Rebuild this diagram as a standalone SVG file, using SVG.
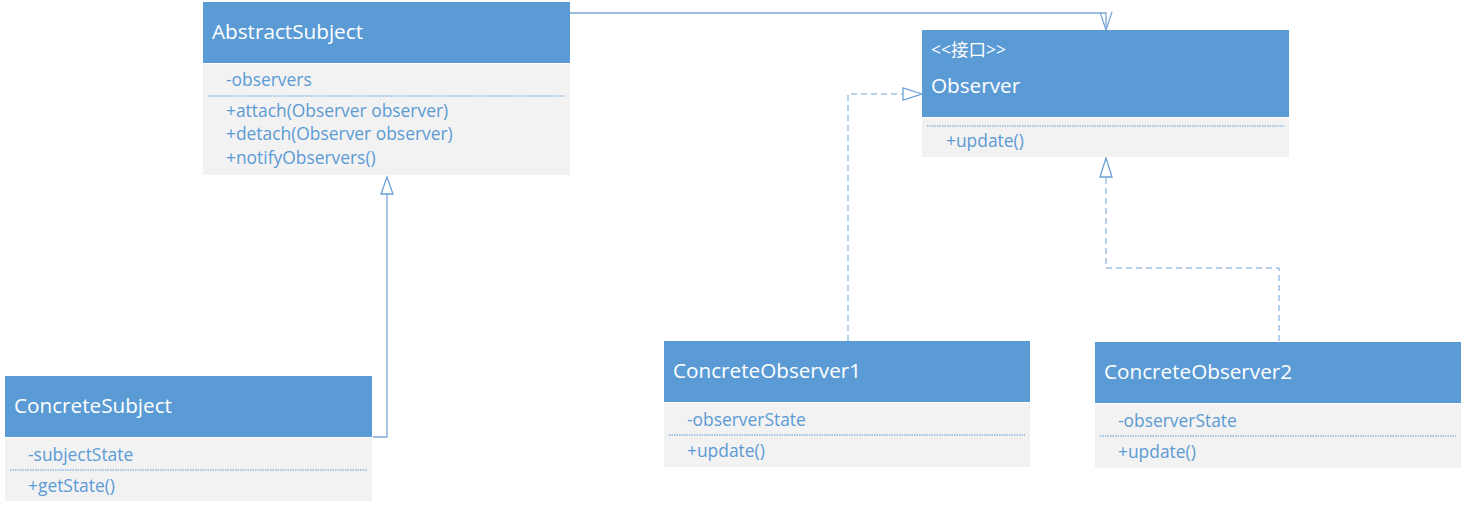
<svg xmlns="http://www.w3.org/2000/svg" width="1464" height="507" viewBox="0 0 1464 507">
<style>
.hd{fill:#5B9BD5}
.bd{fill:#F2F2F2}
.t{font-family:"Open Sans","Noto Sans","Liberation Sans",sans-serif;fill:#FFFFFF;font-size:20.7px}
.m{font-family:"Open Sans","Noto Sans","Liberation Sans",sans-serif;fill:#5B9BD5;font-size:17.4px}
.st{font-family:"Open Sans","Noto Sans CJK SC",sans-serif;fill:#FFFFFF;font-size:17.5px}
.dot{stroke:#5B9BD5;stroke-width:1;stroke-dasharray:1.5 1}
.ln{fill:none;stroke:#7DA7D9;stroke-width:1.3}
.dl{fill:none;stroke:#9DC3E6;stroke-width:1.5;stroke-dasharray:6 4}
.tri{fill:#FFFFFF;stroke:#6A9FD8;stroke-width:1.3}
</style>
<rect width="1464" height="507" fill="#FFFFFF"/>
<g id="connectors">
<path class="ln" d="M570,13 H1106 V30"/>
<path class="ln" d="M1100,12 L1106,30 L1112,12"/>
<path class="ln" d="M387,194 V437 H373"/>
<polygon class="tri" points="387,177 381,194 393,194"/>
<path class="dl" d="M848,341 V94 H903"/>
<polygon class="tri" points="922,94 903,88 903,100"/>
<path class="dl" d="M1279,341 V268 H1106 V177"/>
<polygon class="tri" points="1106,158 1100,177 1112,177"/>
</g>
<g id="AbstractSubject">
<rect class="hd" x="203" y="2" width="367" height="61"/>
<rect class="bd" x="203" y="64" width="367" height="111"/>
<text class="t" x="212" y="39">AbstractSubject</text>
<text class="m" x="226" y="86">-observers</text>
<line class="dot" x1="208" y1="96" x2="565" y2="96"/>
<text class="m" x="226" y="117">+attach(Observer observer)</text>
<text class="m" x="226" y="140">+detach(Observer observer)</text>
<text class="m" x="226" y="164">+notifyObservers()</text>
</g>
<g id="Observer">
<rect class="hd" x="922" y="30" width="367" height="87"/>
<rect class="bd" x="922" y="118" width="367" height="39"/>
<text class="st" x="931" y="56">&lt;&lt;接口&gt;&gt;</text>
<text class="t" x="931" y="93">Observer</text>
<line class="dot" x1="927" y1="126" x2="1284" y2="126"/>
<text class="m" x="946" y="147">+update()</text>
</g>
<g id="ConcreteSubject">
<rect class="hd" x="5" y="376" width="367" height="61"/>
<rect class="bd" x="5" y="438" width="367" height="63"/>
<text class="t" x="14" y="413">ConcreteSubject</text>
<text class="m" x="28" y="461">-subjectState</text>
<line class="dot" x1="10" y1="470" x2="367" y2="470"/>
<text class="m" x="28" y="492">+getState()</text>
</g>
<g id="ConcreteObserver1">
<rect class="hd" x="664" y="341" width="366" height="61"/>
<rect class="bd" x="664" y="403" width="366" height="64"/>
<text class="t" x="673" y="378">ConcreteObserver1</text>
<text class="m" x="687" y="426">-observerState</text>
<line class="dot" x1="669" y1="435" x2="1025" y2="435"/>
<text class="m" x="687" y="457">+update()</text>
</g>
<g id="ConcreteObserver2">
<rect class="hd" x="1095" y="342" width="366" height="61"/>
<rect class="bd" x="1095" y="404" width="366" height="64"/>
<text class="t" x="1104" y="379">ConcreteObserver2</text>
<text class="m" x="1118" y="427">-observerState</text>
<line class="dot" x1="1100" y1="436" x2="1456" y2="436"/>
<text class="m" x="1118" y="458">+update()</text>
</g>
</svg>
